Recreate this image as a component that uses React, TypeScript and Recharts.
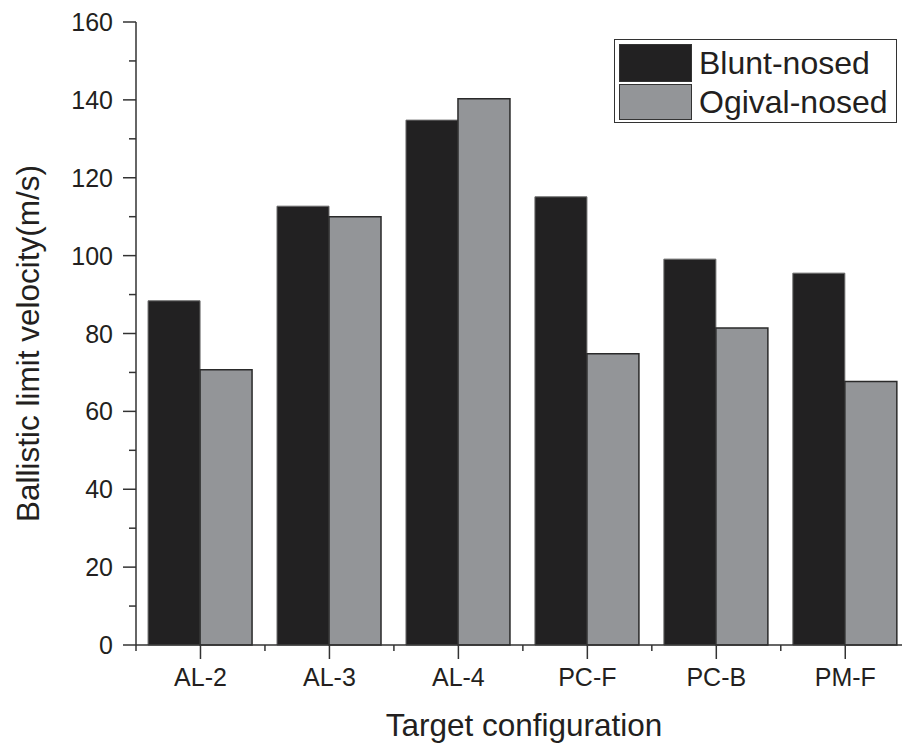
import React from 'react';
import { BarChart, Bar, XAxis, YAxis, Legend } from 'recharts';

const categories = ['AL-2', 'AL-3', 'AL-4', 'PC-F', 'PC-B', 'PM-F'];
const positions = [1, 2, 3, 4, 5, 6];
const bluntNosed = [88.4, 112.7, 134.8, 115.1, 99.1, 95.5];
const ogivalNosed = [70.7, 110.0, 140.3, 74.8, 81.4, 67.7];
const xTicks = [0.5, 1, 1.5, 2, 2.5, 3, 3.5, 4, 4.5, 5, 5.5, 6];
const yTicks = [0, 10, 20, 30, 40, 50, 60, 70, 80, 90, 100, 110, 120, 130, 140, 150, 160];

const data = categories.map((c, i) => ({
  pos: positions[i],
  name: c,
  blunt: bluntNosed[i],
  ogival: ogivalNosed[i],
}));

const FONT = '"Liberation Sans", Arial, Helvetica, sans-serif';
const INK = '#231f20';
const AXIS = '#333333';
const BLACK_FILL = '#222122';
const GREY_FILL = '#939598';

const XTick = (props: any) => {
  const { x, y, payload } = props;
  const v = payload.value as number;
  const major = Number.isInteger(v);
  return (
    <g>
      <line x1={x} x2={x} y1={y} y2={y + (major ? 14 : 6)} stroke={AXIS} strokeWidth={1.5} />
      {major && (
        <text x={x} y={y + 41} textAnchor="middle" fontFamily={FONT} fontSize={25} fill={INK}>
          {categories[v - 1]}
        </text>
      )}
    </g>
  );
};

const YTick = (props: any) => {
  const { x, y, payload } = props;
  const v = payload.value as number;
  const major = v % 20 === 0;
  return (
    <g>
      <line x1={x - (major ? 13 : 7)} x2={x} y1={y} y2={y} stroke={AXIS} strokeWidth={1.5} />
      {major && (
        <text x={x - 23} y={y} dy={9} textAnchor="end" fontFamily={FONT} fontSize={25} fill={INK}>
          {v}
        </text>
      )}
    </g>
  );
};

const YTitle = (props: any) => {
  const vb = props.viewBox || {};
  const cx = (vb.x || 0) + 39;
  const cy = (vb.y || 0) + (vb.height || 0) / 2 + 10;
  return (
    <text
      x={cx}
      y={cy}
      transform={`rotate(-90, ${cx}, ${cy})`}
      textAnchor="middle"
      fontFamily={FONT}
      fontSize={31.5}
      fill={INK}
    >
      Ballistic limit velocity(m/s)
    </text>
  );
};

const XTitle = (props: any) => {
  const vb = props.viewBox || {};
  const cx = (vb.x || 0) + (vb.width || 0) / 2 + 5;
  const cy = (vb.y || 0) + 91;
  return (
    <text x={cx} y={cy} textAnchor="middle" fontFamily={FONT} fontSize={31.5} fill={INK}>
      Target configuration
    </text>
  );
};

const LegendBox = (props: any) => {
  const payload = props.payload || [];
  return (
    <div
      style={{
        border: `1.5px solid ${AXIS}`,
        background: '#fff',
        padding: '3px 8px 2px 4px',
        fontFamily: FONT,
        fontSize: 32,
        color: INK,
        boxSizing: 'border-box',
      }}
    >
      {payload.map((p: any, i: number) => (
        <div key={i} style={{ display: 'flex', alignItems: 'center', height: i === 0 ? 40 : 37, whiteSpace: 'nowrap' }}>
          <div
            style={{
              width: 73,
              height: i === 0 ? 38 : 36,
              background: p.color,
              border: `1.5px solid ${AXIS}`,
              boxSizing: 'border-box',
              marginRight: 7,
              flexShrink: 0,
            }}
          />
          <span style={{ lineHeight: '32px' }}>{p.value}</span>
        </div>
      ))}
    </div>
  );
};

export default function App() {
  return (
    <div style={{ position: 'absolute', left: 0, top: 0, width: 904, height: 744, background: '#fff' }}>
      <BarChart
        width={904}
        height={744}
        data={data}
        margin={{ top: 22, right: 2, bottom: 0, left: 0 }}
        barGap={0}
        barCategoryGap="9.35%"
      >
        <XAxis
          dataKey="pos"
          type="number"
          domain={[0.5, 6.44]}
          ticks={xTicks}
          interval={0}
          height={99}
          tickSize={0}
          tickMargin={0}
          tickLine={false}
          axisLine={{ stroke: AXIS, strokeWidth: 1.5 }}
          tick={(p: any) => <XTick {...p} />}
          label={{ content: (p: any) => <XTitle {...p} /> }}
        />
        <XAxis
          xAxisId="top"
          dataKey="pos"
          type="number"
          orientation="top"
          domain={[0.5, 6.44]}
          height={0}
          tick={false}
          tickLine={false}
          axisLine={{ stroke: AXIS, strokeWidth: 1.5 }}
        />
        <YAxis
          type="number"
          domain={[0, 160]}
          ticks={yTicks}
          interval={0}
          width={136}
          tickSize={0}
          tickMargin={0}
          tickLine={false}
          axisLine={{ stroke: AXIS, strokeWidth: 1.5 }}
          tick={(p: any) => <YTick {...p} />}
          label={{ content: (p: any) => <YTitle {...p} /> }}
        />
        <YAxis
          yAxisId="r"
          orientation="right"
          type="number"
          domain={[0, 160]}
          width={0}
          tick={false}
          tickLine={false}
          axisLine={{ stroke: AXIS, strokeWidth: 1.5 }}
        />
        <Legend
          layout="vertical"
          align="center"
          verticalAlign="middle"
          wrapperStyle={{ position: 'absolute', left: 614, top: 39, width: 'auto', height: 'auto' }}
          content={(p: any) => <LegendBox {...p} />}
        />
        <Bar dataKey="blunt" name="Blunt-nosed" fill={BLACK_FILL} stroke="#6a6a6a" strokeWidth={1} isAnimationActive={false} />
        <Bar dataKey="ogival" name="Ogival-nosed" fill={GREY_FILL} stroke="#2a2a2a" strokeWidth={1.5} isAnimationActive={false} />
      </BarChart>
    </div>
  );
}
